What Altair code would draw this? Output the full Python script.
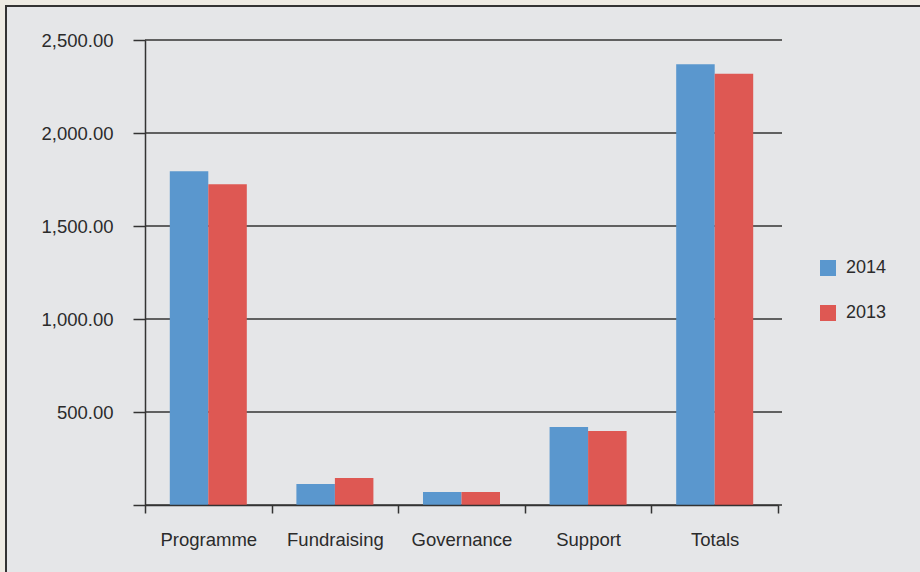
import altair as alt
import pandas as pd

categories = ["Programme", "Fundraising", "Governance", "Support", "Totals"]
years = ["2014", "2013"]
values_2014 = [1795, 113, 70, 419, 2370]
values_2013 = [1725, 145, 70, 398, 2318]
y_ticks = [0, 500, 1000, 1500, 2000, 2500]
colors = ["#5a97ce", "#de5853"]

rows = []
for c, a, b in zip(categories, values_2014, values_2013):
    rows.append({"category": c, "year": years[0], "value": a})
    rows.append({"category": c, "year": years[1], "value": b})
df = pd.DataFrame(rows)
grid_df = pd.DataFrame({"value": y_ticks})
frame_df = pd.DataFrame({"a": [0]})

W, H = 633, 465
FONT = "Liberation Sans"
TEXT = "#2b2b2b"
LINE = "#333333"

yscale = alt.Scale(domain=[0, 2500], nice=False)
yaxis = alt.Axis(
    title=None,
    values=y_ticks,
    labelExpr="datum.value == 0 ? '' : format(datum.value, ',.2f')",
    grid=False,
    tickSize=12,
    tickWidth=1.5,
    tickColor=LINE,
    domainColor=LINE,
    domainWidth=1.5,
    labelFont=FONT,
    labelFontSize=18.5,
    labelColor=TEXT,
    labelPadding=20,
    zindex=1,
)

frame = alt.Chart(frame_df).mark_rect(fill="#e5e6e8", stroke="#333333", strokeWidth=2).encode(
    x=alt.value(-139), x2=alt.value(800), y=alt.value(-34), y2=alt.value(600)
)

grid = alt.Chart(grid_df).mark_rule(color=LINE, strokeWidth=1.5).encode(
    y=alt.Y("value:Q", scale=yscale, axis=yaxis),
    x=alt.value(0),
    x2=alt.value(637),
)

bars = alt.Chart(df).mark_bar().encode(
    x=alt.X(
        "category:N",
        sort=categories,
        scale=alt.Scale(paddingInner=0, paddingOuter=0),
        axis=alt.Axis(
            title=None,
            labelAngle=0,
            tickBand="extent",
            tickSize=8,
            tickWidth=1.5,
            tickColor=LINE,
            domainColor=LINE,
            domainWidth=1.5,
            labelFont=FONT,
            labelFontSize=18.5,
            labelColor=TEXT,
            labelPadding=17,
            zindex=1,
        ),
    ),
    xOffset=alt.XOffset("year:N", sort=years, scale=alt.Scale(paddingInner=0, paddingOuter=0.644)),
    y=alt.Y("value:Q", scale=yscale, axis=yaxis),
    color=alt.Color(
        "year:N",
        sort=years,
        scale=alt.Scale(domain=years, range=colors),
        legend=alt.Legend(
            title=None,
            orient="none",
            legendX=674,
            legendY=219,
            symbolType="square",
            symbolSize=256,
            symbolStrokeWidth=0,
            symbolOpacity=1,
            labelFont=FONT,
            labelFontSize=18,
            labelColor=TEXT,
            labelOffset=9,
            rowPadding=27,
        ),
    ),
)

chart = (
    alt.layer(frame, grid, bars)
    .properties(
        width=W,
        height=H,
        background="#eeebe3",
        padding={"left": 145, "top": 40, "right": 142, "bottom": 67},
        autosize=alt.AutoSizeParams(type="none"),
    )
    .configure_view(stroke=None)
)

chart.save("out.html", embed_options={"renderer": "svg", "actions": False})
